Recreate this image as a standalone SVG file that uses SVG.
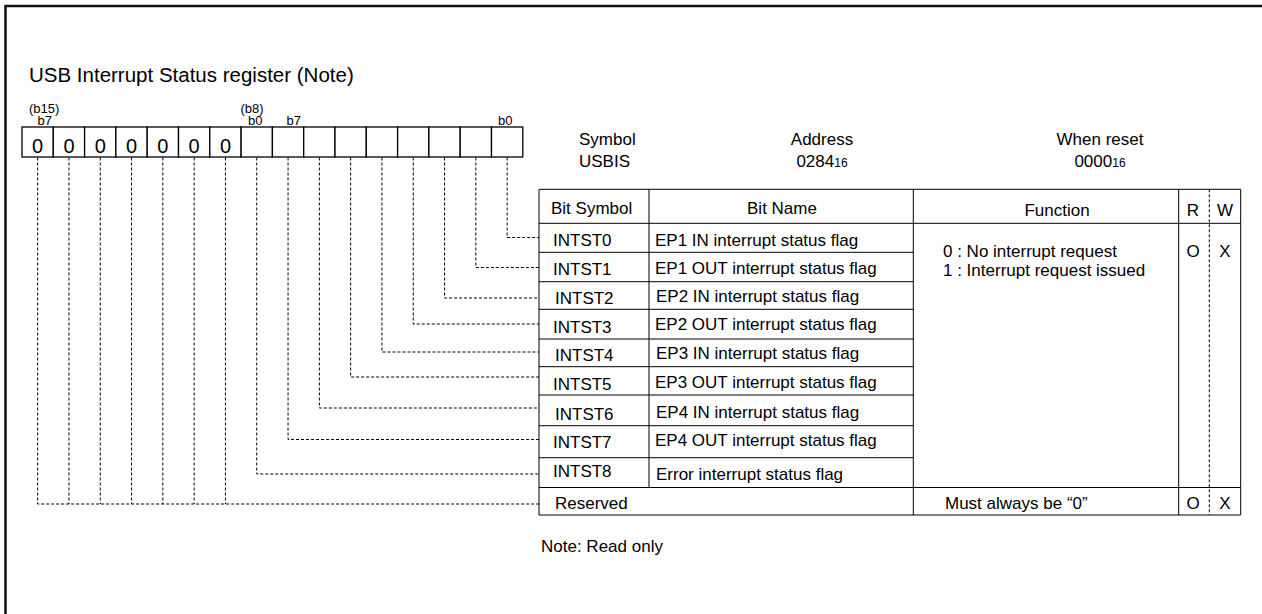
<svg xmlns="http://www.w3.org/2000/svg" width="1262" height="614" viewBox="0 0 1262 614">
<style>
text{font-family:"Liberation Sans",Arial,sans-serif;fill:#000}
.t17{font-size:17px}
.t13{font-size:13px}
.sub{font-size:12px}
.box{fill:#fff;stroke:#000;stroke-width:1.3}
.ln{stroke:#000;stroke-width:1;fill:none}
.dl{stroke:#000;stroke-width:1;fill:none;stroke-dasharray:3,2}
.frame{stroke:#111;stroke-width:2.5;fill:none}
.mid{text-anchor:middle}
.reg{font-size:20px;text-anchor:middle}
</style>
<rect width="1262" height="614" fill="#fff"/>
<path class="frame" d="M5.5 614 V6 H1262"/>
<g id="title">
<text x="29" y="82" style="font-size:20.5px">USB Interrupt Status register (Note)</text>
</g>
<g id="register">
<text class="t13" x="29" y="112.5">(b15)</text>
<text class="t13" x="37.5" y="125">b7</text>
<text class="t13" x="240.5" y="112.5">(b8)</text>
<text class="t13" x="248" y="125">b0</text>
<text class="t13" x="286.5" y="125">b7</text>
<text class="t13" x="498" y="125">b0</text>
<rect class="box" x="22" y="127" width="31.3" height="30"/>
<rect class="box" x="53.3" y="127" width="31.3" height="30"/>
<rect class="box" x="84.6" y="127" width="31.3" height="30"/>
<rect class="box" x="115.9" y="127" width="31.3" height="30"/>
<rect class="box" x="147.2" y="127" width="31.3" height="30"/>
<rect class="box" x="178.5" y="127" width="31.3" height="30"/>
<rect class="box" x="209.8" y="127" width="31.3" height="30"/>
<rect class="box" x="241.1" y="127" width="31.3" height="30"/>
<rect class="box" x="272.4" y="127" width="31.3" height="30"/>
<rect class="box" x="303.7" y="127" width="31.3" height="30"/>
<rect class="box" x="335" y="127" width="31.3" height="30"/>
<rect class="box" x="366.3" y="127" width="31.3" height="30"/>
<rect class="box" x="397.6" y="127" width="31.3" height="30"/>
<rect class="box" x="428.9" y="127" width="31.3" height="30"/>
<rect class="box" x="460.2" y="127" width="31.3" height="30"/>
<rect class="box" x="491.5" y="127" width="31.3" height="30"/>
<text class="reg" x="37.65" y="153.3">0</text>
<text class="reg" x="68.95" y="153.3">0</text>
<text class="reg" x="100.25" y="153.3">0</text>
<text class="reg" x="131.55" y="153.3">0</text>
<text class="reg" x="162.85" y="153.3">0</text>
<text class="reg" x="194.15" y="153.3">0</text>
<text class="reg" x="225.45" y="153.3">0</text>
</g>
<g id="info">
<text class="t17" x="579" y="145">Symbol</text>
<text class="t17" x="579" y="166.5">USBIS</text>
<text class="t17 mid" x="822" y="145">Address</text>
<text class="t17 mid" x="822" y="166.5">0284<tspan class="sub">16</tspan></text>
<text class="t17 mid" x="1100" y="145">When reset</text>
<text class="t17 mid" x="1100" y="166.5">0000<tspan class="sub">16</tspan></text>
</g>
<g id="connectors">
<path class="dl" d="M507.15 157.5 V237.5 H539"/>
<path class="dl" d="M475.85 157.5 V267.5 H539"/>
<path class="dl" d="M444.55 157.5 V298 H539"/>
<path class="dl" d="M413.25 157.5 V324 H539"/>
<path class="dl" d="M381.95 157.5 V352 H539"/>
<path class="dl" d="M350.65 157.5 V377 H539"/>
<path class="dl" d="M319.35 157.5 V408 H539"/>
<path class="dl" d="M288.05 157.5 V439.5 H539"/>
<path class="dl" d="M256.75 157.5 V474 H539"/>
<path class="dl" d="M37.65 157.5 V504 H539"/>
<path class="dl" d="M68.95 157.5 V504"/>
<path class="dl" d="M100.25 157.5 V504"/>
<path class="dl" d="M131.55 157.5 V504"/>
<path class="dl" d="M162.85 157.5 V504"/>
<path class="dl" d="M194.15 157.5 V504"/>
<path class="dl" d="M225.45 157.5 V504"/>
</g>
<g id="table">
<path class="ln" d="M539 189.3 H1240.7 V515 H539 Z"/>
<path class="ln" d="M539 223.3 H1240.7 M539 487.5 H1240.7"/>
<path class="ln" d="M649 189.3 V487.5 M913.3 189.3 V515 M1178.7 189.3 V515"/>
<path class="dl" d="M1209.3 189.3 V515"/>
<path class="ln" d="M539 252.3 H913.3 M539 281.7 H913.3 M539 309.3 H913.3 M539 339 H913.3 M539 366.7 H913.3 M539 395 H913.3 M539 425.7 H913.3 M539 457.7 H913.3"/>
</g>
<g id="header">
<text class="t17" x="551" y="214">Bit Symbol</text>
<text class="t17 mid" x="782" y="214">Bit Name</text>
<text class="t17 mid" x="1057" y="216">Function</text>
<text class="t17 mid" x="1193" y="216">R</text>
<text class="t17 mid" x="1225" y="216">W</text>
</g>
<g id="row-intst0">
<text class="t17" x="553" y="246">INTST0</text>
<text class="t17" x="655" y="246">EP1 IN interrupt status flag</text>
</g>
<g id="row-intst1">
<text class="t17" x="553" y="275">INTST1</text>
<text class="t17" x="655" y="273.5">EP1 OUT interrupt status flag</text>
</g>
<g id="row-intst2">
<text class="t17" x="555" y="303.5">INTST2</text>
<text class="t17" x="656" y="302">EP2 IN interrupt status flag</text>
</g>
<g id="row-intst3">
<text class="t17" x="553" y="332.5">INTST3</text>
<text class="t17" x="655" y="330">EP2 OUT interrupt status flag</text>
</g>
<g id="row-intst4">
<text class="t17" x="555" y="360.5">INTST4</text>
<text class="t17" x="656" y="358.5">EP3 IN interrupt status flag</text>
</g>
<g id="row-intst5">
<text class="t17" x="553" y="390">INTST5</text>
<text class="t17" x="655" y="387.5">EP3 OUT interrupt status flag</text>
</g>
<g id="row-intst6">
<text class="t17" x="555" y="420">INTST6</text>
<text class="t17" x="656" y="417.5">EP4 IN interrupt status flag</text>
</g>
<g id="row-intst7">
<text class="t17" x="553" y="448">INTST7</text>
<text class="t17" x="655" y="446">EP4 OUT interrupt status flag</text>
</g>
<g id="row-intst8">
<text class="t17" x="553" y="477">INTST8</text>
<text class="t17" x="656" y="480">Error interrupt status flag</text>
</g>
<g id="function">
<text class="t17" x="943" y="257">0 : No interrupt request</text>
<text class="t17" x="943" y="276">1 : Interrupt request issued</text>
<text class="t17 mid" x="1193" y="257">O</text>
<text class="t17 mid" x="1225" y="257">X</text>
</g>
<g id="row-reserved">
<text class="t17" x="555" y="508.5">Reserved</text>
<text class="t17" x="945" y="508.5">Must always be “0”</text>
<text class="t17 mid" x="1193" y="508.5">O</text>
<text class="t17 mid" x="1225" y="508.5">X</text>
</g>
<g id="note">
<text class="t17" x="541" y="552">Note: Read only</text>
</g>
</svg>
